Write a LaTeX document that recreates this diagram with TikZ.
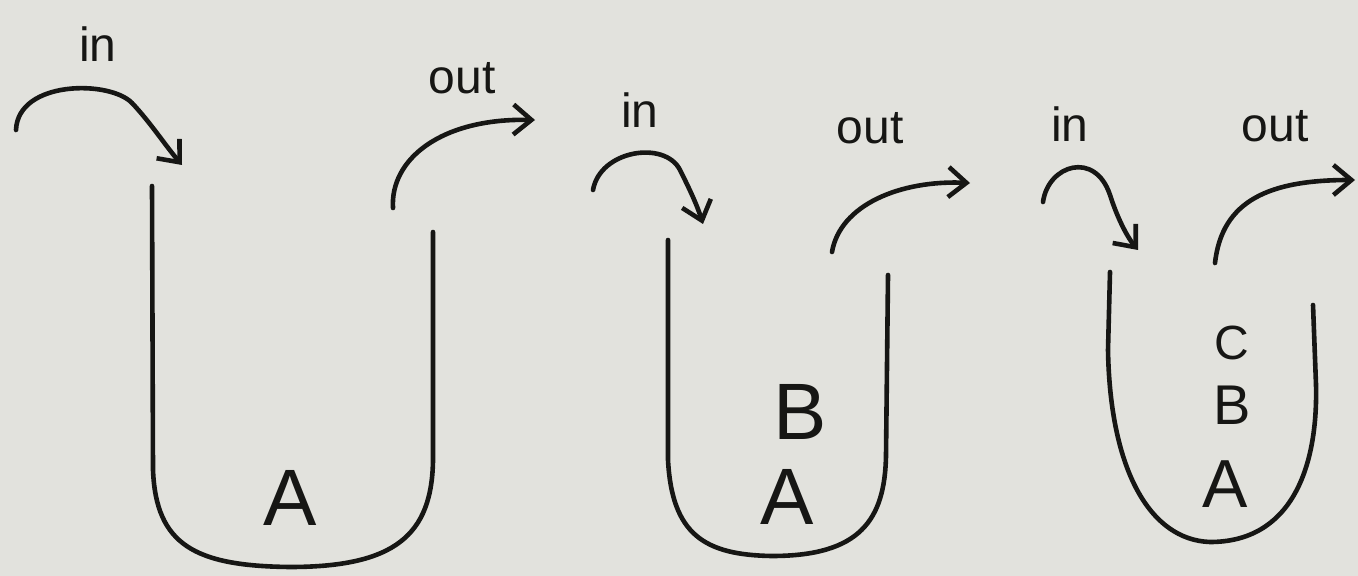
\documentclass[tikz,border=0pt]{standalone}
\usepackage{fontspec}
\setmainfont{Liberation Sans}
\usetikzlibrary{arrows.meta}
\definecolor{paper}{RGB}{226,226,221}
\definecolor{ink}{RGB}{22,22,20}
\tikzset{
  pen/.style={draw=ink,line width=2.3pt,line cap=round,line join=round},
  flow/.style={pen,-{Straight Barb[length=9pt,width=15pt,line width=2.3pt]}},
  lbl/.style={text=ink,font=\fontsize{24}{28}\selectfont,inner sep=0pt},
  item/.style={text=ink,font=\fontsize{40}{46}\selectfont,inner sep=0pt},
  small item/.style={text=ink,font=\fontsize{28}{32}\selectfont,inner sep=0pt}
}
\begin{document}
\begin{tikzpicture}[x=0.5pt,y=-0.5pt]
\fill[paper] (0,0) rectangle (1358,576);
\useasboundingbox (0,0) rectangle (1358,576);

% ---------- stack 1 ----------
\draw[pen] (152,186) -- (153,470) .. controls (156,545) and (195,566) .. (290,567)
  .. controls (395,567) and (432,535) .. (433,460) -- (433,232);
\node[item] (a1) at (290,498) {A};
\coordinate (i1s) at (16,130);
\coordinate (i1e) at (182,165);
\draw[flow] (i1s) .. controls (18,80) and (110,80) .. (132,103) .. controls (150,122) and (165,145) .. (i1e);
\node[lbl] (in1) at (98,44) {in};
\coordinate (o1s) at (393,208);
\coordinate (o1e) at (535,120);
\draw[flow] (o1s) .. controls (390,160) and (440,118) .. (o1e);
\node[lbl] (out1) at (462,78) {out};

% ---------- stack 2 ----------
\draw[pen] (668,240) -- (668,460) .. controls (672,535) and (705,555) .. (772,556)
  .. controls (860,556) and (885,520) .. (886,455) -- (888,275);
\node[item] (b2) at (800,412) {B};
\node[item] (a2) at (787,497) {A};
\coordinate (i2s) at (593,190);
\coordinate (i2e) at (703,224);
\draw[flow] (i2s) .. controls (600,150) and (665,140) .. (680,170) .. controls (690,190) and (697,205) .. (i2e);
\node[lbl] (in2) at (640,110) {in};
\coordinate (o2s) at (832,252);
\coordinate (o2e) at (970,183);
\draw[flow] (o2s) .. controls (840,205) and (900,180) .. (o2e);
\node[lbl] (out2) at (870,128) {out};

% ---------- stack 3 ----------
\draw[pen] (1110,272) -- (1108,350) .. controls (1110,470) and (1150,540) .. (1210,542)
  .. controls (1290,542) and (1318,470) .. (1316,385) -- (1313,305);
\node[small item,font=\fontsize{24}{28}\selectfont] (c3) at (1232,343) {C};
\node[small item] (b3) at (1232,405) {B};
\node[item,font=\fontsize{34}{40}\selectfont] (a3) at (1225,484) {A};
\coordinate (i3s) at (1043,202);
\coordinate (i3e) at (1138,250);
\draw[flow] (i3s) .. controls (1048,165) and (1095,150) .. (1110,195) .. controls (1118,220) and (1128,238) .. (i3e);
\node[lbl] (in3) at (1070,124) {in};
\coordinate (o3s) at (1215,263);
\coordinate (o3e) at (1355,180);
\draw[flow] (o3s) .. controls (1222,200) and (1270,180) .. (o3e);
\node[lbl] (out3) at (1275,126) {out};
\end{tikzpicture}
\end{document}
